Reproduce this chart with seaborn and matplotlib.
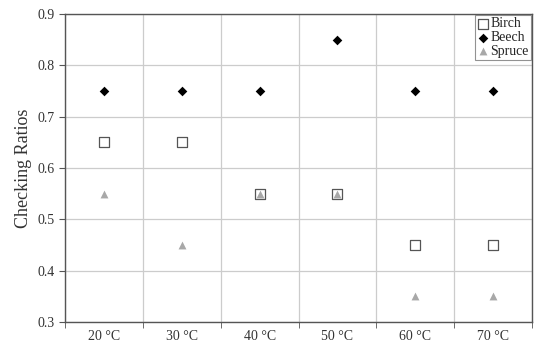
import numpy as np
import pandas as pd
import seaborn as sns
import matplotlib.pyplot as plt
from matplotlib.ticker import FixedLocator

temps = ['20 °C', '30 °C', '40 °C', '50 °C', '60 °C', '70 °C']
birch = [0.65, 0.65, 0.55, 0.55, 0.45, 0.45]
beech = [0.75, 0.75, 0.75, 0.85, 0.75, 0.75]
spruce = [0.55, 0.45, 0.55, 0.55, 0.35, 0.35]

df = pd.DataFrame({
    'temp': temps * 3,
    'ratio': birch + beech + spruce,
    'wood': ['Birch'] * 6 + ['Beech'] * 6 + ['Spruce'] * 6,
})

sns.set_style('white')
plt.rcParams['font.family'] = ['Liberation Serif', 'DejaVu Serif']

fig = plt.figure(figsize=(5.42, 3.46), dpi=100)
ax = fig.add_axes([0.12, 0.069, 0.8615, 0.8905])

styles = {
    'Birch': dict(marker='s', facecolor='white', edgecolor='#555555', s=44, linewidth=0.9),
    'Beech': dict(marker='D', color='black', s=24, linewidth=0),
    'Spruce': dict(marker='^', color='#a8a8a8', s=32, linewidth=0),
}
for name, st in styles.items():
    sub = df[df['wood'] == name]
    sns.scatterplot(data=sub, x='temp', y='ratio', ax=ax, label=name, zorder=3, **st)

ax.set_xlim(-0.5, 5.5)
ax.set_ylim(0.3, 0.9)
ax.set_yticks(np.arange(0.3, 0.91, 0.1))
ax.set_yticklabels([f'{v:.1f}' for v in np.arange(0.3, 0.91, 0.1)], fontsize=10, color='#333333')
ax.set_xticks(range(6))
ax.set_xticklabels(temps, fontsize=10, color='#333333')
ax.tick_params(axis='x', which='major', length=0, pad=6)
ax.xaxis.set_minor_locator(FixedLocator(np.arange(-0.5, 5.6, 1)))
ax.tick_params(axis='x', which='minor', length=4, direction='out', color='#555555', bottom=True)
ax.tick_params(axis='y', length=4, direction='out', color='#555555', left=True)
ax.grid(True, axis='y', which='major', color='#cccccc', linewidth=0.9)
ax.grid(True, axis='x', which='minor', color='#cccccc', linewidth=0.9)
ax.grid(False, axis='x', which='major')
for s in ax.spines.values():
    s.set_color('#555555')
    s.set_linewidth(1.0)

ax.set_xlabel('')
ax.set_ylabel('Checking Ratios', fontsize=13, color='#333333')

leg = ax.legend(loc='upper right', fontsize=10, frameon=True, fancybox=False,
                edgecolor='#777777', borderpad=0.15, handletextpad=0.05,
                handlelength=0.9, labelspacing=0.05, borderaxespad=0.1)
leg.get_frame().set_linewidth(0.8)

fig.savefig('out.png', dpi=100)
